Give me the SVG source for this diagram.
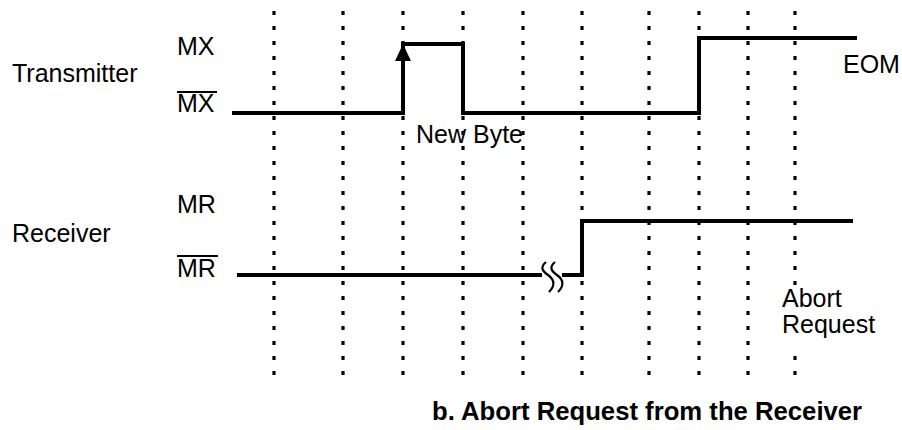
<svg xmlns="http://www.w3.org/2000/svg" width="902" height="430" viewBox="0 0 902 430">
<style>
text{font-family:"Liberation Sans",Arial,sans-serif;font-size:25px;fill:#000}
.title{font-weight:bold;font-size:25.7px}
.grid line{stroke:#000;stroke-width:3.2;stroke-dasharray:4 11}
.wave{fill:none;stroke:#000;stroke-width:4;stroke-linejoin:miter}
.bar{stroke:#000;stroke-width:2}
.sq{fill:none;stroke:#000;stroke-width:2.2}
</style>
<rect width="902" height="430" fill="#fff"/>
<g id="grid" class="grid">
<line x1="274" y1="11" x2="274" y2="375"/>
<line x1="343" y1="11" x2="343" y2="375"/>
<line x1="403" y1="11" x2="403" y2="375"/>
<line x1="463" y1="11" x2="463" y2="375"/>
<line x1="523" y1="11" x2="523" y2="375"/>
<line x1="582" y1="11" x2="582" y2="375"/>
<line x1="649" y1="11" x2="649" y2="375"/>
<line x1="699" y1="11" x2="699" y2="375"/>
<line x1="748" y1="11" x2="748" y2="375"/>
<line x1="795" y1="11" x2="795" y2="285"/>
<line x1="795" y1="356" x2="795" y2="375"/>
</g>
<g id="transmitter">
<text x="12" y="82">Transmitter</text>
<text x="177" y="55">MX</text>
<text x="177" y="112">MX</text>
<line class="bar" x1="177" y1="92" x2="217" y2="92"/>
<path class="wave" d="M232 113 H403 V44 H463 V113 H699 V38 H857"/>
<polygon points="403,44 395,61 411,61" fill="#000"/>
<text x="843" y="73">EOM</text>
<text x="416" y="143">New Byte</text>
</g>
<g id="receiver">
<text x="12" y="242">Receiver</text>
<text x="177" y="213">MR</text>
<text x="177" y="277">MR</text>
<line class="bar" x1="177" y1="256" x2="218" y2="256"/>
<path class="wave" d="M237 275 H542"/>
<path class="wave" d="M562 275 H582 V221 H853"/>
<path class="sq" d="M546 262 C540 267 542 271 548 275 C555 280 555 286 549 292"/>
<path class="sq" d="M555 262 C549 267 551 271 557 275 C564 280 564 286 558 292"/>
<text x="782" y="307">Abort</text>
<text x="782" y="333">Request</text>
</g>
<text class="title" x="432" y="420">b. Abort Request from the Receiver</text>
</svg>
